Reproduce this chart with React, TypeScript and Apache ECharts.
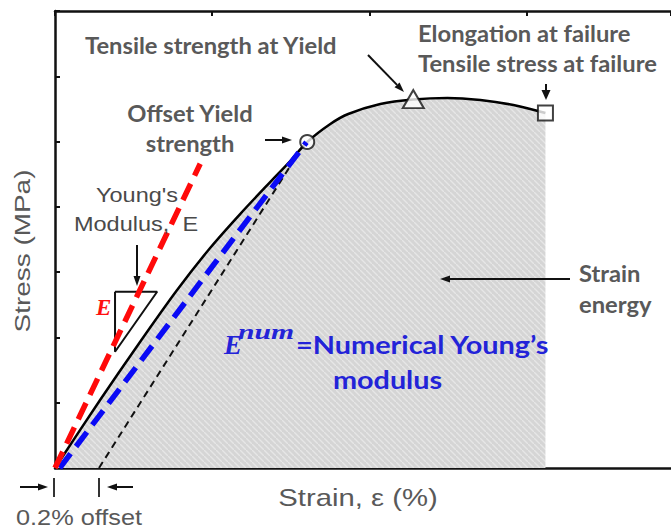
import React, { useEffect, useRef } from "react";
import * as echarts from "echarts";

// stress-strain curve (strain in axis units, stress in axis units)
const strain = [0, 0.287, 0.541, 0.777, 0.987, 1.178, 1.369, 1.497, 1.605, 1.752, 1.866, 2.07, 2.28, 2.497, 2.707, 2.917, 3.121];
const stress = [0, 1.041, 1.93, 2.726, 3.37, 3.89, 4.38, 4.702, 4.993, 5.269, 5.422, 5.575, 5.644, 5.667, 5.636, 5.56, 5.437];

const youngLine = [[0, 0], [0.924, 4.66]];
const numericalLine = [[0.03, 0], [1.6, 4.99]];
const offsetLine = [[0.28, 0], [1.53, 4.75]];
const slopeTriangle = [[0.382, 2.7], [0.65, 2.7], [0.382, 1.78], [0.382, 2.7]];

const yieldPoint = [1.605, 4.993];
const maxPoint = [2.28, 5.65];
const failPoint = [3.121, 5.437];

const xRange = [0, 3.92];
const yRange = [0, 7];

const GRAY = "#595959";
const BOLD_FONT = "Lato";
const BLUE = "#2323d8";

function arrow(x1: number, y1: number, x2: number, y2: number, head = 10, w = 7, color = "#111") {
  const dx = x2 - x1;
  const dy = y2 - y1;
  const len = Math.sqrt(dx * dx + dy * dy);
  const ux = dx / len;
  const uy = dy / len;
  const bx = x2 - ux * head;
  const by = y2 - uy * head;
  const px = -uy;
  const py = ux;
  return [
    {
      type: "line",
      z: 100,
      shape: { x1, y1, x2: bx, y2: by },
      style: { stroke: color, lineWidth: 2 },
    },
    {
      type: "polygon",
      z: 100,
      shape: {
        points: [
          [x2, y2],
          [bx + (px * w) / 2, by + (py * w) / 2],
          [bx - (px * w) / 2, by - (py * w) / 2],
        ],
      },
      style: { fill: color },
    },
  ];
}

function txt(text: string, x: number, y: number, opts: any = {}) {
  return {
    type: "text",
    z: 100,
    x,
    y,
    scaleX: opts.scaleX || 1,
    rotation: opts.rotation || 0,
    style: {
      text,
      fill: opts.color || GRAY,
      font: opts.font || `bold 22px ${BOLD_FONT}`,
      textAlign: opts.align || "left",
      textVerticalAlign: "middle",
    },
  };
}

export default function App() {
  const ref = useRef<HTMLDivElement>(null);
  useEffect(() => {
    if (!ref.current) return;
    const chart = echarts.init(ref.current, undefined, { renderer: "svg" });

    const c = document.createElement("canvas");
    c.width = 6;
    c.height = 6;
    const ctx = c.getContext("2d")!;
    ctx.fillStyle = "#d5d5d5";
    ctx.fillRect(0, 0, 6, 6);
    ctx.strokeStyle = "#e6e6e6";
    ctx.lineWidth = 1.4;
    ctx.beginPath();
    ctx.moveTo(-1, -1);
    ctx.lineTo(7, 7);
    ctx.stroke();

    const curve = strain.map((s, i) => [s, stress[i]]);
    const sx = 1.08;

    const graphics: any[] = [
      txt("Tensile strength at Yield", 85, 45, { scaleX: sx }),
      txt("Offset Yield", 190, 113, { align: "center", scaleX: sx }),
      txt("strength", 190, 143, { align: "center", scaleX: sx }),
      txt("Elongation at failure", 418, 33, { scaleX: sx }),
      txt("Tensile stress at failure", 418, 63, { scaleX: sx }),
      txt("Strain", 579, 273, { scaleX: sx }),
      txt("energy", 579, 304, { scaleX: sx }),
      txt("Young's", 137, 195, { align: "center", color: "#4a4a4a", font: "21px 'Liberation Sans'", scaleX: 1.12 }),
      txt("Modulus,  E", 136, 224, { align: "center", color: "#4a4a4a", font: "21px 'Liberation Sans'", scaleX: 1.12 }),
      txt("E", 96, 307, { color: "#ff1010", font: "italic bold 23px 'Liberation Serif'" }),
      txt("E", 224, 345, { color: BLUE, font: "italic bold 27px 'Liberation Serif'" }),
      txt("num", 238, 332, { color: BLUE, font: "italic bold 22px 'Liberation Serif'", scaleX: 1.35 }),
      txt("=Numerical Young\u2019s", 296, 344, { color: BLUE, font: `bold 25px ${BOLD_FONT}`, scaleX: 1.155 }),
      txt("modulus", 333, 379, { color: BLUE, font: `bold 25px ${BOLD_FONT}`, scaleX: 1.15 }),
      txt("Stress (MPa)", 22, 251, { align: "center", color: GRAY, font: "22px 'Liberation Sans'", rotation: Math.PI / 2, scaleX: 1.27 }),
      txt("Strain, \u03b5 (%)", 358, 498, { align: "center", color: GRAY, font: "24px 'Liberation Sans'", scaleX: 1.22 }),
      txt("0.2% offset", 79, 518, { align: "center", color: GRAY, font: "22px 'Liberation Sans'", scaleX: 1.15 }),
      ...arrow(368, 55, 404, 92),
      ...arrow(265, 140, 292, 140),
      ...arrow(137, 245, 137, 286),
      ...arrow(570, 279, 440, 279),
      ...arrow(546, 84, 546, 100, 10, 9),
      ...arrow(20, 487, 48, 487),
      ...arrow(133, 487, 107, 487),
      { type: "line", z: 100, shape: { x1: 54, y1: 478, x2: 54, y2: 497 }, style: { stroke: "#333", lineWidth: 2 } },
      { type: "line", z: 100, shape: { x1: 99, y1: 478, x2: 99, y2: 497 }, style: { stroke: "#333", lineWidth: 2 } },
    ];

    const hiddenAxisParts = {
      axisLabel: { show: false },
      splitLine: { show: false },
    };

    chart.setOption({
      animation: false,
      backgroundColor: "#fff",
      grid: { left: 55, right: 0, top: 11, bottom: 62, containLabel: false },
      xAxis: [
        {
          type: "value",
          min: xRange[0],
          max: xRange[1],
          interval: 1,
          position: "bottom",
          axisLine: { show: true, onZero: false, lineStyle: { color: "#111", width: 2.5 } },
          axisTick: { show: false },
          ...hiddenAxisParts,
        },
        {
          type: "value",
          min: xRange[0],
          max: xRange[1],
          interval: 1,
          position: "top",
          axisLine: { show: true, onZero: false, lineStyle: { color: "#111", width: 2.5 } },
          axisTick: { show: true, inside: true, length: 5, lineStyle: { color: "#111", width: 2 } },
          ...hiddenAxisParts,
        },
      ],
      yAxis: {
        type: "value",
        min: yRange[0],
        max: yRange[1],
        interval: 1,
        axisLine: { show: true, onZero: false, lineStyle: { color: "#111", width: 2.5 } },
        axisTick: { show: true, inside: true, length: 5, lineStyle: { color: "#111", width: 2 } },
        ...hiddenAxisParts,
      },
      series: [
        {
          name: "Stress-strain",
          type: "line",
          data: curve,
          smooth: 0.3,
          showSymbol: false,
          lineStyle: { color: "#000", width: 2.5 },
          areaStyle: { color: { image: c, repeat: "repeat" }, opacity: 1 },
          z: 2,
        },
        {
          name: "Markers",
          type: "scatter",
          data: [
            { value: yieldPoint, symbol: "circle", symbolSize: 14 },
            { value: maxPoint, symbol: "triangle", symbolSize: [21, 18] },
            { value: failPoint, symbol: "rect", symbolSize: 15 },
          ],
          itemStyle: { color: "#fff", borderColor: "#111", borderWidth: 2 },
          z: 3,
        },
        {
          name: "Offset",
          type: "line",
          data: offsetLine,
          showSymbol: false,
          lineStyle: { color: "#111", width: 2, type: [7, 5] },
          z: 4,
        },
        {
          name: "Numerical",
          type: "line",
          data: numericalLine,
          showSymbol: false,
          lineStyle: { color: "#0a0af5", width: 5.5, type: [18, 9] },
          z: 5,
        },
        {
          name: "Young",
          type: "line",
          data: youngLine,
          showSymbol: false,
          lineStyle: { color: "#ff0a0a", width: 5.5, type: [18, 9] },
          z: 6,
        },
        {
          name: "Slope",
          type: "line",
          data: slopeTriangle,
          showSymbol: false,
          lineStyle: { color: "#111", width: 2 },
          z: 5,
        },
      ],
      graphic: graphics,
    });

    return () => chart.dispose();
  }, []);

  return (
    <div
      ref={ref}
      style={{ position: "fixed", left: 0, top: 0, width: 671, height: 530, background: "#fff" }}
    />
  );
}
